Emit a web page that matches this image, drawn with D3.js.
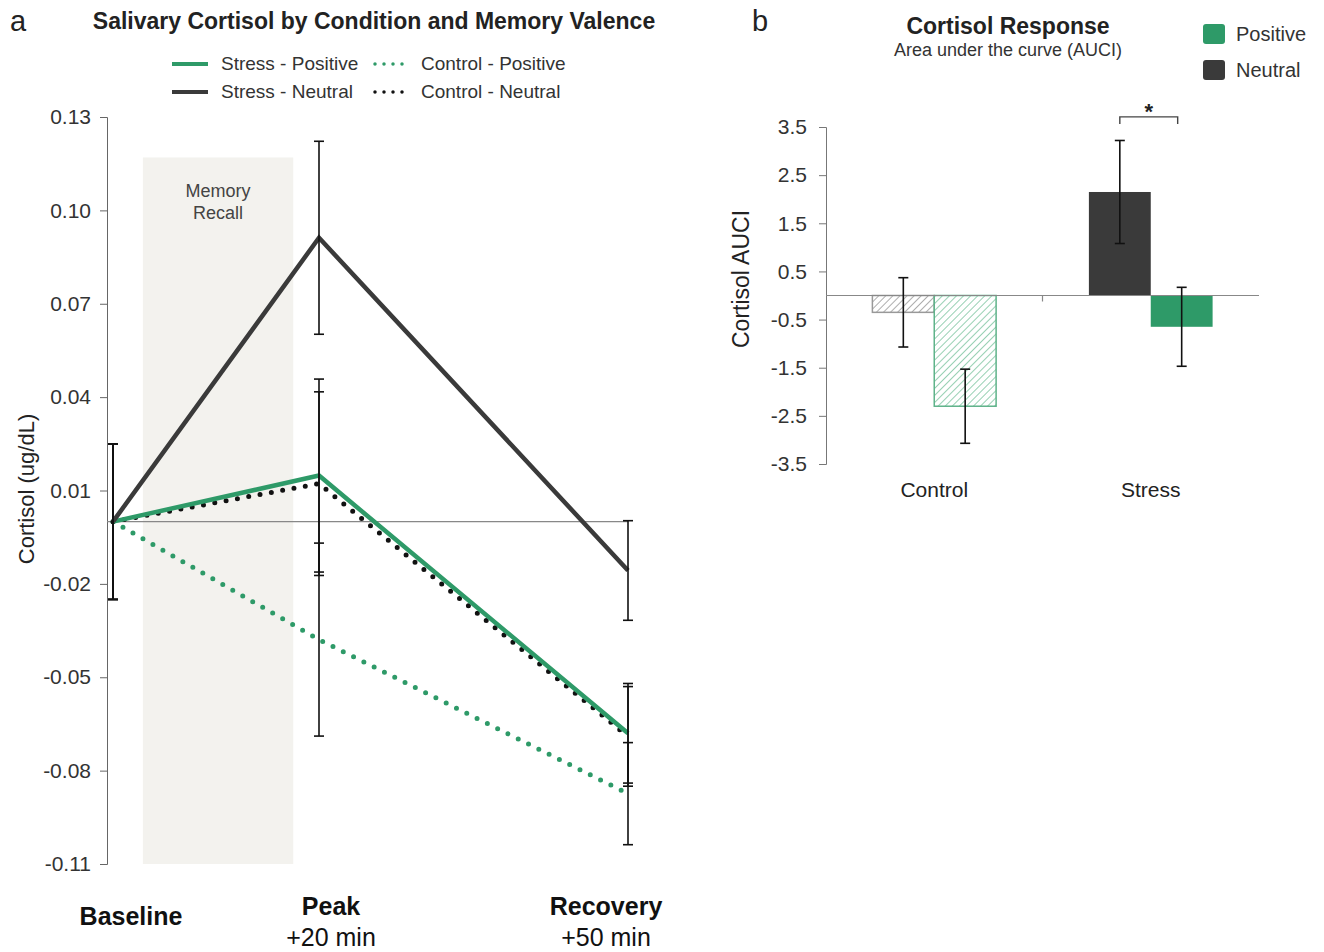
<!DOCTYPE html>
<html>
<head>
<meta charset="utf-8">
<script src="https://cdn.jsdelivr.net/npm/d3@7"></script>
<style>
  body { margin: 0; background: #fff; }
  svg { font-family: "Liberation Sans", Arial, sans-serif; }
</style>
</head>
<body>
<div id="chart"></div>
<script>
// ---- panel a: cortisol over time ----
const timePoints = [0, 20, 50];
const timeLabels = ["Baseline", "Peak", "Recovery"];
const timeSubLabels = ["", "+20 min", "+50 min"];
const stressPositive = [0, 0.0148, -0.068];
const stressNeutral = [0, 0.0912, -0.0157];
const controlPositive = [0, -0.0379, -0.0874];
const controlNeutral = [0, 0.0122, -0.069];
const stressPositiveErr = [0.025, 0.031, 0.016];
const stressNeutralErr = [0.025, 0.031, 0.016];
const controlPositiveErr = [0.025, 0.031, 0.0164];
const controlNeutralErr = [0.025, 0.0295, 0.016];
const cortisolTicks = [0.13, 0.10, 0.07, 0.04, 0.01, -0.02, -0.05, -0.08, -0.11];
const recallWindow = [2.9, 17.5];
const recallRange = [-0.11, 0.117];

// ---- panel b: AUCi bars ----
const conditions = ["Control", "Stress"];
const valences = ["Neutral", "Positive"];
const controlAuc = [-0.35, -2.3];
const stressAuc = [2.15, -0.65];
const controlAucErr = [0.72, 0.77];
const stressAucErr = [1.07, 0.82];
const aucTicks = [3.5, 2.5, 1.5, 0.5, -0.5, -1.5, -2.5, -3.5];

const green = "#2e9a68";
const dark = "#3a3a3a";

// excel style labels use a plain hyphen
const hyphen = fmt => d => fmt(d).replace("\u2212", "-");

const svg = d3.select("#chart").append("svg")
  .attr("width", 1324)
  .attr("height", 952);

// ================= panel a =================
const x = d3.scaleLinear().domain([0, 50]).range([113, 628]);
const y = d3.scaleLinear().domain([-0.11, 0.13]).range([864, 117]);

svg.append("text").attr("x", 10).attr("y", 31)
  .style("font-size", "29px").attr("fill", "#222").text("a");
svg.append("text").attr("x", 374).attr("y", 29)
  .attr("text-anchor", "middle")
  .style("font-size", "23px").style("font-weight", "bold").attr("fill", "#222")
  .text("Salivary Cortisol by Condition and Memory Valence");

svg.append("rect")
  .attr("x", x(recallWindow[0]))
  .attr("y", y(recallRange[1]))
  .attr("width", x(recallWindow[1]) - x(recallWindow[0]))
  .attr("height", y(recallRange[0]) - y(recallRange[1]))
  .attr("fill", "#f3f2ee");
svg.append("text")
  .attr("x", x((recallWindow[0] + recallWindow[1]) / 2)).attr("y", 197)
  .attr("text-anchor", "middle").style("font-size", "18px").attr("fill", "#444")
  .selectAll("tspan").data(["Memory", "Recall"]).join("tspan")
  .attr("x", x((recallWindow[0] + recallWindow[1]) / 2))
  .attr("dy", (d, i) => i ? 22 : 0)
  .text(d => d);

const axisA = svg.append("g")
  .attr("transform", "translate(107,0)")
  .call(d3.axisLeft(y).tickValues(cortisolTicks).tickFormat(hyphen(d3.format(".2f"))).tickSize(7).tickPadding(9));
axisA.select(".domain").attr("stroke", "#666");
axisA.selectAll(".tick line").attr("stroke", "#666");
axisA.selectAll(".tick text").style("font-size", "21px").attr("fill", "#333").attr("font-family", "inherit");

svg.append("line")
  .attr("x1", 107).attr("x2", x(50))
  .attr("y1", y(0)).attr("y2", y(0))
  .attr("stroke", "#888").attr("stroke-width", 1.2);

svg.append("text")
  .attr("transform", `translate(34,${489}) rotate(-90)`)
  .attr("text-anchor", "middle").style("font-size", "22px").attr("fill", "#222")
  .text("Cortisol (ug/dL)");

const series = [
  { name: "Control - Positive", values: controlPositive, err: controlPositiveErr, color: green, dotted: true },
  { name: "Control - Neutral", values: controlNeutral, err: controlNeutralErr, color: "#111", dotted: true },
  { name: "Stress - Positive", values: stressPositive, err: stressPositiveErr, color: green, dotted: false },
  { name: "Stress - Neutral", values: stressNeutral, err: stressNeutralErr, color: dark, dotted: false }
];

const line = d3.line().x((d, i) => x(timePoints[i])).y(d => y(d));

svg.append("g").selectAll("path")
  .data(series)
  .join("path")
  .attr("d", d => line(d.values))
  .attr("fill", "none")
  .attr("stroke", d => d.color)
  .attr("stroke-width", d => d.dotted ? 5 : 4.5)
  .attr("stroke-linecap", d => d.dotted ? "round" : "butt")
  .attr("stroke-dasharray", d => d.dotted ? "0 11.5" : null);

const errA = svg.append("g").attr("stroke", "#111").attr("stroke-width", 1.6);
series.forEach(s => {
  s.values.forEach((v, i) => {
    const cx = x(timePoints[i]);
    const hi = y(v + s.err[i]), lo = y(v - s.err[i]);
    errA.append("line").attr("x1", cx).attr("x2", cx).attr("y1", hi).attr("y2", lo);
    errA.append("line").attr("x1", cx - 5).attr("x2", cx + 5).attr("y1", hi).attr("y2", hi);
    errA.append("line").attr("x1", cx - 5).attr("x2", cx + 5).attr("y1", lo).attr("y2", lo);
  });
});

// legend a
const legendA = [
  { s: series[2], lx: 172, ly: 64 },
  { s: series[3], lx: 172, ly: 92 },
  { s: series[0], lx: 375, ly: 64 },
  { s: series[1], lx: 375, ly: 92 }
];
const lg = svg.append("g").selectAll("g").data(legendA).join("g")
  .attr("transform", d => `translate(${d.lx},${d.ly})`);
lg.append("line")
  .attr("x1", 0).attr("x2", 36)
  .attr("stroke", d => d.s.color)
  .attr("stroke-width", d => d.s.dotted ? 3.5 : 4)
  .attr("stroke-linecap", d => d.s.dotted ? "round" : "butt")
  .attr("stroke-dasharray", d => d.s.dotted ? "0 9" : null);
lg.append("text")
  .attr("x", d => d.s.dotted ? 46 : 49).attr("y", 6)
  .style("font-size", "19px").attr("fill", "#333")
  .text(d => d.s.name);

// x labels a
const xl = svg.append("g").selectAll("g").data(timePoints).join("g")
  .attr("transform", (d, i) => `translate(${x(d) + [18, 12, -22][i]},0)`);
xl.append("text")
  .attr("y", (d, i) => i ? 915 : 925)
  .attr("text-anchor", "middle")
  .style("font-size", "25px").style("font-weight", "bold").attr("fill", "#111")
  .text((d, i) => timeLabels[i]);
xl.append("text")
  .attr("y", 946)
  .attr("text-anchor", "middle")
  .style("font-size", "25px").attr("fill", "#111")
  .text((d, i) => timeSubLabels[i]);

// ================= panel b =================
const yb = d3.scaleLinear().domain([-3.5, 3.5]).range([464, 127]);
const xb = d3.scaleBand().domain(conditions).range([826, 1259]);
const xv = d3.scaleBand().domain(valences).range([0, xb.bandwidth()]).paddingOuter(0.75).paddingInner(0);

svg.append("text").attr("x", 752).attr("y", 31)
  .style("font-size", "29px").attr("fill", "#222").text("b");
svg.append("text").attr("x", 1008).attr("y", 34)
  .attr("text-anchor", "middle")
  .style("font-size", "23px").style("font-weight", "bold").attr("fill", "#222")
  .text("Cortisol Response");
svg.append("text").attr("x", 1008).attr("y", 56)
  .attr("text-anchor", "middle")
  .style("font-size", "18px").attr("fill", "#333")
  .text("Area under the curve (AUCI)");

const defs = svg.append("defs");
[["hatchGray", "#9a9a9a"], ["hatchGreen", "#7cc4a0"]].forEach(([id, c]) => {
  const p = defs.append("pattern").attr("id", id)
    .attr("patternUnits", "userSpaceOnUse").attr("width", 5).attr("height", 5)
    .attr("patternTransform", "rotate(45)");
  p.append("rect").attr("width", 5).attr("height", 5).attr("fill", "#fff");
  p.append("line").attr("x1", 0).attr("x2", 0).attr("y1", 0).attr("y2", 5)
    .attr("stroke", c).attr("stroke-width", 1.6);
});

const bars = [];
conditions.forEach((c, ci) => {
  const vals = ci ? stressAuc : controlAuc;
  const errs = ci ? stressAucErr : controlAucErr;
  valences.forEach((v, vi) => bars.push({ condition: c, valence: v, value: vals[vi], err: errs[vi] }));
});
const barFill = d => d.condition === "Control"
  ? (d.valence === "Neutral" ? "url(#hatchGray)" : "url(#hatchGreen)")
  : (d.valence === "Neutral" ? dark : green);
const barStroke = d => d.condition === "Control"
  ? (d.valence === "Neutral" ? "#999" : "#5fb38a")
  : "none";

const axisB = svg.append("g")
  .attr("transform", "translate(826,0)")
  .call(d3.axisLeft(yb).tickValues(aucTicks).tickFormat(hyphen(d3.format(".1f"))).tickSize(7).tickPadding(12));
axisB.select(".domain").attr("stroke", "#777");
axisB.selectAll(".tick line").attr("stroke", "#777");
axisB.selectAll(".tick text").style("font-size", "21px").attr("fill", "#333").attr("font-family", "inherit");

svg.append("g").selectAll("rect").data(bars).join("rect")
  .attr("x", d => xb(d.condition) + xv(d.valence))
  .attr("y", d => yb(Math.max(0, d.value)))
  .attr("width", xv.bandwidth())
  .attr("height", d => Math.abs(yb(d.value) - yb(0)))
  .attr("fill", barFill)
  .attr("stroke", barStroke)
  .attr("stroke-width", 1.5);

svg.append("line")
  .attr("x1", 826).attr("x2", 1259)
  .attr("y1", yb(0)).attr("y2", yb(0))
  .attr("stroke", "#888").attr("stroke-width", 1.2);
svg.append("line")
  .attr("x1", xb("Stress")).attr("x2", xb("Stress"))
  .attr("y1", yb(0)).attr("y2", yb(0) + 6)
  .attr("stroke", "#888").attr("stroke-width", 1.2);

const errB = svg.append("g").attr("stroke", "#111").attr("stroke-width", 1.6);
bars.forEach(d => {
  const cx = xb(d.condition) + xv(d.valence) + xv.bandwidth() / 2;
  const hi = yb(d.value + d.err), lo = yb(d.value - d.err);
  errB.append("line").attr("x1", cx).attr("x2", cx).attr("y1", hi).attr("y2", lo);
  errB.append("line").attr("x1", cx - 5).attr("x2", cx + 5).attr("y1", hi).attr("y2", hi);
  errB.append("line").attr("x1", cx - 5).attr("x2", cx + 5).attr("y1", lo).attr("y2", lo);
});

// significance bracket between stress bars
const bx1 = xb("Stress") + xv("Neutral") + xv.bandwidth() / 2;
const bx2 = xb("Stress") + xv("Positive") + xv.bandwidth() / 2 - 4;
svg.append("path")
  .attr("d", `M${bx1},${yb(3.56)}V${yb(3.71)}H${bx2}V${yb(3.56)}`)
  .attr("fill", "none").attr("stroke", "#444").attr("stroke-width", 1.4);
svg.append("text")
  .attr("x", (bx1 + bx2) / 2).attr("y", yb(3.71) + 2)
  .attr("text-anchor", "middle").style("font-size", "22px").style("font-weight", "bold").attr("fill", "#222")
  .text("*");

svg.append("g").selectAll("text").data(conditions).join("text")
  .attr("x", d => xb(d) + xb.bandwidth() / 2)
  .attr("y", 497)
  .attr("text-anchor", "middle")
  .style("font-size", "21px").attr("fill", "#222")
  .text(d => d);

svg.append("text")
  .attr("transform", `translate(749,${279}) rotate(-90)`)
  .attr("text-anchor", "middle").style("font-size", "23px").attr("fill", "#222")
  .text("Cortisol AUCI");

// legend b
const lgb = svg.append("g").selectAll("g").data(["Positive", "Neutral"]).join("g")
  .attr("transform", (d, i) => `translate(1203,${24 + i * 36})`);
lgb.append("rect").attr("width", 22).attr("height", 20).attr("rx", 3)
  .attr("fill", d => d === "Positive" ? green : dark);
lgb.append("text").attr("x", 33).attr("y", 17)
  .style("font-size", "20px").attr("fill", "#333")
  .text(d => d);
</script>
</body>
</html>
